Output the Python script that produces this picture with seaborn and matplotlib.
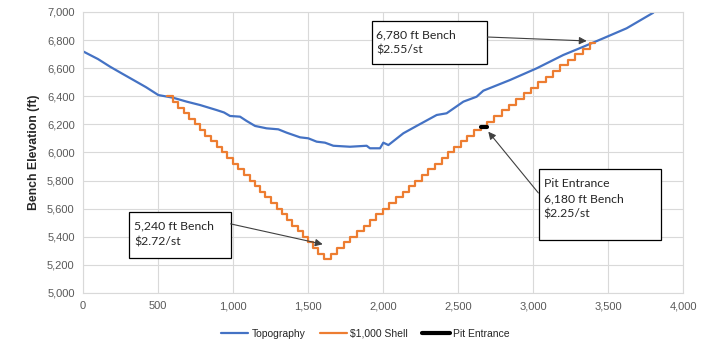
import pandas as pd
import seaborn as sns
import matplotlib.pyplot as plt
from matplotlib.patches import Rectangle

# topography profile (ft)
topo_x = [0, 100, 180, 260, 336, 420, 502, 600, 691, 780, 891, 940, 980, 1047, 1090,
          1147, 1224, 1302, 1358, 1447, 1502, 1558, 1613, 1669, 1780, 1891, 1913, 1980,
          2002, 2036, 2136, 2224, 2358, 2424, 2536, 2624, 2669, 2847, 3024, 3202, 3336,
          3469, 3624, 3802]
topo_y = [6720, 6665, 6611, 6562, 6516, 6465, 6409, 6390, 6362, 6338, 6302, 6285, 6260,
          6255, 6225, 6189, 6172, 6165, 6141, 6108, 6101, 6077, 6070, 6048, 6041, 6048,
          6030, 6030, 6070, 6053, 6137, 6189, 6267, 6279, 6362, 6397, 6440, 6516, 6599,
          6694, 6753, 6813, 6884, 6995]

# $1,000 shell benches: start of each bench and its elevation
shell_x = [560, 600, 630, 670, 705, 745, 780, 815, 855, 890, 925, 960, 1000, 1035, 1070,
           1110, 1145, 1180, 1215, 1255, 1290, 1325, 1360, 1395, 1430, 1465, 1500, 1535,
           1567, 1607,
           1653, 1696, 1740, 1783, 1826, 1870, 1913, 1956, 2000, 2043, 2086, 2130, 2173,
           2216, 2260, 2303, 2346, 2390, 2433, 2476, 2520, 2563, 2606, 2650,
           2693, 2742, 2791, 2840, 2889, 2938, 2987, 3036, 3085, 3134, 3183, 3232, 3282,
           3331, 3380, 3413]
shell_y = [6400, 6360, 6320, 6280, 6240, 6200, 6160, 6120, 6080, 6040, 6000, 5960, 5920,
           5880, 5840, 5800, 5760, 5720, 5680, 5640, 5600, 5560, 5520, 5480, 5440, 5400,
           5360, 5320, 5280, 5240,
           5280, 5320, 5360, 5400, 5440, 5480, 5520, 5560, 5600, 5640, 5680, 5720, 5760,
           5800, 5840, 5880, 5920, 5960, 6000, 6040, 6080, 6120, 6160, 6180,
           6220, 6260, 6300, 6340, 6380, 6420, 6460, 6500, 6540, 6580, 6620, 6660, 6700,
           6740, 6780, 6780]

pit_x = [2650, 2693]
pit_y = [6180, 6180]

x_ticks = [0, 500, 1000, 1500, 2000, 2500, 3000, 3500, 4000]
y_ticks = [5000, 5200, 5400, 5600, 5800, 6000, 6200, 6400, 6600, 6800, 7000]

notes = ["6,780 ft Bench\n\\$2.55/st",
         "Pit Entrance\n6,180 ft Bench\n\\$2.25/st",
         "5,240 ft Bench\n\\$2.72/st"]
note_targets = [(3358, 6794), (2702, 6148), (1598, 5347)]

sns.set_style('whitegrid', {'grid.color': '#D9D9D9', 'axes.edgecolor': '#D9D9D9'})
plt.rcParams['font.family'] = ['Liberation Sans', 'DejaVu Sans']

fig = plt.figure(figsize=(7.12, 3.53), dpi=100)
ax = fig.add_axes([83 / 712, (353 - 293) / 353, 600 / 712, 281 / 353])

topo = pd.DataFrame({'x': topo_x, 'y': topo_y})
shell = pd.DataFrame({'x': shell_x, 'y': shell_y})
pit = pd.DataFrame({'x': pit_x, 'y': pit_y})

sns.lineplot(data=topo, x='x', y='y', ax=ax, color='#4472C4', lw=1.6,
             estimator=None, label='Topography')
sns.lineplot(data=shell, x='x', y='y', ax=ax, color='#ED7D31', lw=1.6,
             estimator=None, drawstyle='steps-post', label='\\$1,000 Shell')
sns.lineplot(data=pit, x='x', y='y', ax=ax, color='black', lw=3,
             estimator=None, label='Pit Entrance', zorder=5)

ax.set_xlim(0, 4000)
ax.set_ylim(5000, 7000)
ax.set_xticks(x_ticks)
ax.set_yticks(y_ticks)
ax.set_xticklabels([f'{v:,}' for v in x_ticks])
ax.set_yticklabels([f'{v:,}' for v in y_ticks])
ax.tick_params(length=0, labelsize=8, labelcolor='#595959', pad=6)
ax.set_xlabel('')
ax.set_ylabel('Bench Elevation (ft)', fontsize=8.8, fontweight='bold', labelpad=5)
for s in ax.spines.values():
    s.set_linewidth(0.8)

# annotation boxes (axes fraction): box, text anchor, arrow start
boxes = [(0.481, 0.815, 0.193, 0.153), (0.760, 0.190, 0.203, 0.250), (0.077, 0.123, 0.169, 0.164)]
arrow_from = [(0.674, 0.911), (0.759, 0.356), (0.246, 0.246)]
for (bx, by, bw, bh), txt, src, tgt in zip(boxes, notes, arrow_from, note_targets):
    ax.add_patch(Rectangle((bx, by), bw, bh, transform=ax.transAxes, facecolor='white',
                           edgecolor='black', lw=0.9, zorder=6, clip_on=False))
    ax.text(bx + 0.008, by + bh - 0.03, txt, transform=ax.transAxes, fontsize=8.8,
            va='top', ha='left', linespacing=1.5, zorder=7,
            family=['Lato', 'DejaVu Sans'])
    ax.annotate('', xy=tgt, xycoords='data', xytext=src, textcoords='axes fraction',
                arrowprops=dict(arrowstyle='-|>', color='#404040', lw=0.8,
                                mutation_scale=11, shrinkA=0, shrinkB=0), zorder=7)

ax.get_legend().remove()
h, l = ax.get_legend_handles_labels()
fig.legend(h, l, loc='center', bbox_to_anchor=(0.513, 0.054), ncol=3, frameon=False,
           fontsize=7.5, handlelength=2.6, columnspacing=1.4, handletextpad=0.3)

fig.savefig('out.png', dpi=100)
